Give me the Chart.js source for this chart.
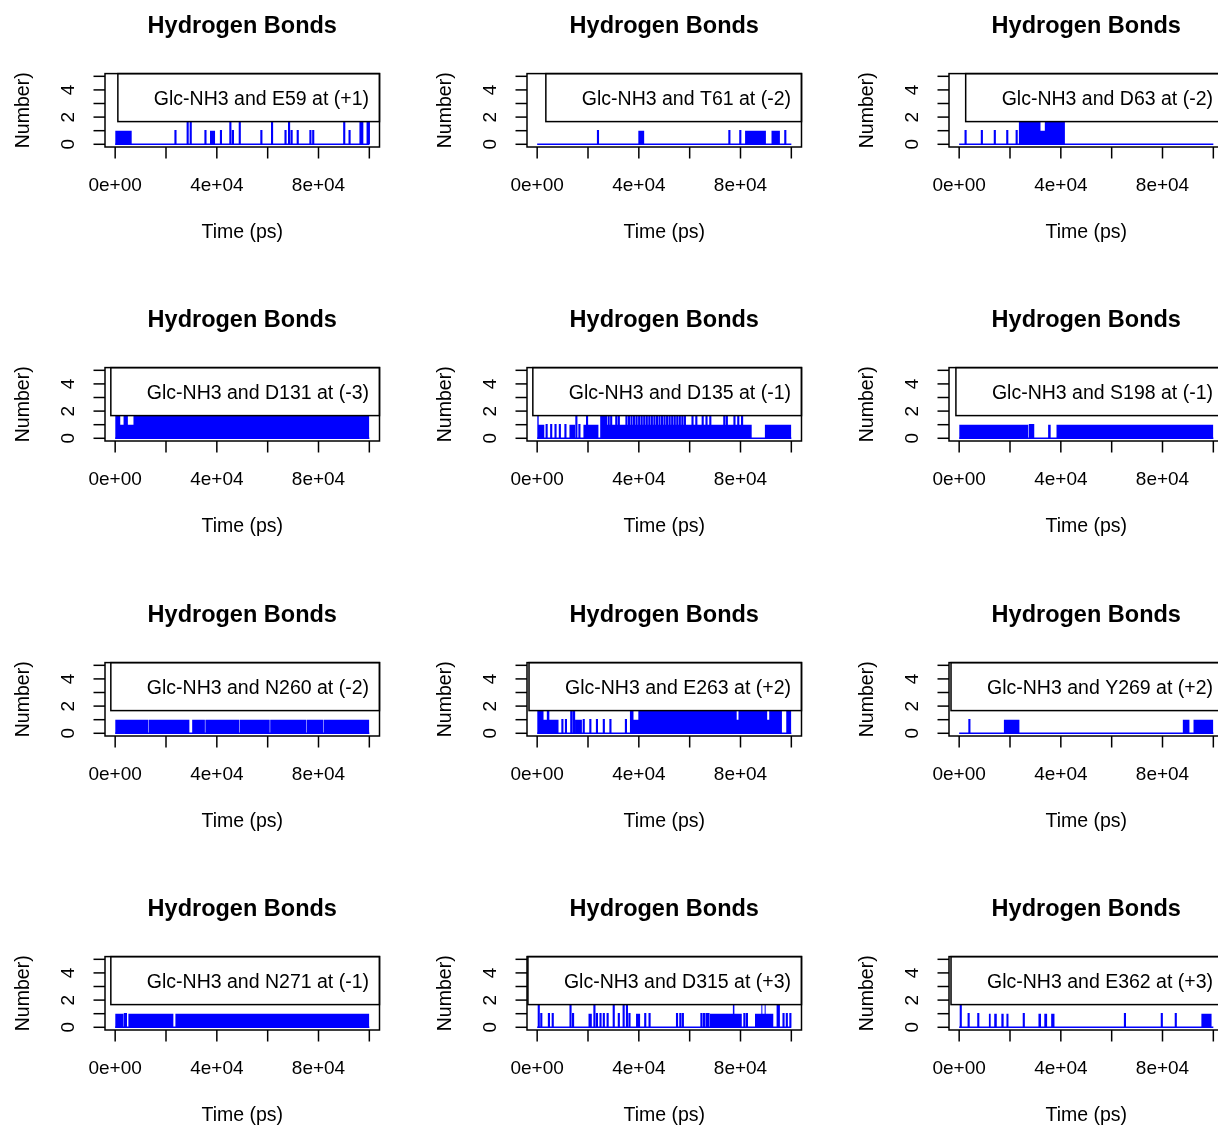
<!DOCTYPE html>
<html>
<head>
<meta charset="utf-8">
<script src="https://cdn.jsdelivr.net/npm/chart.js@4.4.0/dist/chart.umd.min.js"></script>
<style>
  body { margin: 0; background: #fff; overflow: hidden; }
  #grid { position: relative; width: 1266px; height: 1178px; }
  .cell { position: absolute; width: 422px; height: 294px; }
</style>
</head>
<body>
<div id="grid"></div>
<script>
// axis ticks (time in ps, number of H-bonds)
const xTicks = [0, 20000, 40000, 60000, 80000, 100000];
const xTickLabels = ['0e+00', '', '4e+04', '', '8e+04', ''];
const yTicks = [0, 1, 2, 3, 4, 5];
const yTickLabels = ['0', '', '2', '', '4', ''];

const panelNames = [
  'Glc-NH3 and E59 at (+1)', 'Glc-NH3 and T61 at (-2)', 'Glc-NH3 and D63 at (-2)',
  'Glc-NH3 and D131 at (-3)', 'Glc-NH3 and D135 at (-1)', 'Glc-NH3 and S198 at (-1)',
  'Glc-NH3 and N260 at (-2)', 'Glc-NH3 and E263 at (+2)', 'Glc-NH3 and Y269 at (+2)',
  'Glc-NH3 and N271 at (-1)', 'Glc-NH3 and D315 at (+3)', 'Glc-NH3 and E362 at (+3)'
];

// blocks: [start, end, count] periods of fast flipping (drawn solid)
// trace: [time, count] single spikes or [start, end, count] held values
const e59Blocks = [[0, 6500, 1], [37300, 39300, 1]];
const e59Trace = [[23600, 1], [28400, 2], [29600, 2], [35400, 1], [41500, 1], [45200, 2], [46200, 1],
  [48900, 2], [57400, 1], [61600, 2], [66900, 1], [68300, 2], [69300, 1], [71700, 1], [76700, 1],
  [77800, 1], [90000, 2], [92100, 1], [96400, 2], [97100, 2], [99200, 2], [99700, 2]];

const t61Blocks = [[39800, 42100, 1], [81800, 90000, 1], [92200, 95500, 1]];
const t61Trace = [[23800, 1], [75500, 1], [79800, 1], [97500, 1]];

const d63Blocks = [[23500, 32000, 2], [32000, 33700, 1], [33700, 41600, 2]];
const d63Trace = [[2400, 1], [8800, 1], [13900, 1], [18800, 1], [22500, 1]];

const d131Blocks = [[0, 2000, 2], [2000, 3300, 1], [3300, 5000, 2], [5000, 7200, 1], [7200, 100000, 2]];
const d131Trace = [];

const d135Blocks = [[0, 600, 2], [600, 2800, 1], [12700, 14900, 1], [18200, 24100, 1],
  [24800, 27500, 2], [27500, 84400, 1], [89600, 100000, 1]];
const d135Trace = [[3600, 1], [5400, 1], [7100, 1], [8800, 1], [11000, 1], [15300, 2], [16500, 1],
  [19500, 2], [28000, 2], [29000, 2], [31000, 2], [32000, 2], [35000, 2], [36000, 2], [37000, 2],
  [38000, 2], [39000, 2], [40000, 2], [41000, 2], [42000, 2], [43000, 2], [44000, 2], [45000, 2],
  [46000, 2], [47000, 2], [48000, 2], [49000, 2], [50000, 2], [51000, 2], [52000, 2], [53000, 2],
  [54000, 2], [55000, 2], [56000, 2], [57000, 2], [58000, 2], [61000, 2], [62500, 2], [65000, 2],
  [66500, 2], [68000, 2], [73500, 2], [74500, 2], [77500, 2], [79000, 2], [80500, 2]];

const s198Blocks = [[0, 27200, 1], [35000, 36000, 1], [38300, 100000, 1]];
const s198Trace = [[27700, 1], [28300, 1], [29000, 1]];

const n260Blocks = [[0, 13000, 1], [13200, 29200, 1], [30300, 35300, 1], [35500, 48800, 1],
  [49000, 60800, 1], [61000, 75200, 1], [75400, 81800, 1], [82000, 100000, 1]];
const n260Trace = [];

const e263Blocks = [[0, 2500, 2], [2500, 3800, 1], [3800, 4800, 2], [4800, 8400, 1], [13000, 14000, 2],
  [14900, 17600, 1], [36500, 37900, 2], [37900, 39800, 1], [39800, 78500, 2], [78500, 79200, 1],
  [79200, 90500, 2], [90500, 91300, 1], [91300, 96300, 2], [98000, 100000, 2]];
const e263Trace = [[9800, 1], [11200, 1], [14400, 2], [18200, 1], [20800, 1], [23400, 1], [26100, 1],
  [28700, 1], [34800, 1]];

const y269Blocks = [[17600, 23700, 1], [88000, 90600, 1], [92200, 100000, 1]];
const y269Trace = [[3900, 1]];

const n271Blocks = [[0, 3300, 1], [5200, 22900, 1], [23700, 100000, 1]];
const n271Trace = [[3700, 1], [4100, 1]];

const d315Blocks = [[20200, 21500, 1], [38900, 40500, 1], [68000, 72000, 1], [72000, 77000, 1],
  [77000, 77600, 2], [77600, 80500, 1], [85700, 88200, 1], [88200, 88600, 2], [88600, 89500, 1],
  [89500, 89900, 2], [89900, 92900, 1], [94200, 95500, 2]];
const d315Trace = [[500, 2], [1500, 1], [4500, 1], [6000, 1], [13000, 2], [14000, 1], [22400, 2],
  [23400, 1], [24800, 1], [26100, 1], [27600, 1], [30000, 2], [32000, 1], [33900, 2], [35200, 2],
  [36200, 1], [42400, 1], [44100, 1], [54900, 1], [56200, 1], [57200, 1], [64500, 1], [65500, 1],
  [66500, 1], [67300, 1], [81400, 1], [82400, 1], [96800, 1], [98100, 1], [99500, 1]];

const e362Blocks = [[11700, 12400, 1], [13800, 14800, 1], [16600, 17500, 1], [18600, 19400, 1],
  [31200, 32200, 1], [33500, 34600, 1], [36200, 37500, 1], [95300, 99300, 1]];
const e362Trace = [[500, 2], [3600, 1], [7400, 1], [25300, 1], [65100, 1], [79600, 1], [85100, 1]];

const panelBlocks = [e59Blocks, t61Blocks, d63Blocks, d131Blocks, d135Blocks, s198Blocks,
  n260Blocks, e263Blocks, y269Blocks, n271Blocks, d315Blocks, e362Blocks];
const panelTrace = [e59Trace, t61Trace, d63Trace, d131Trace, d135Trace, s198Trace,
  n260Trace, e263Trace, y269Trace, n271Trace, d315Trace, e362Trace];

const FONT = '"Liberation Sans", Arial, Helvetica, sans-serif';
const SPIKE = 250;

// turn segment lists into step points
function stepPoints(segs) {
  const pts = [{ x: 0, y: 0 }];
  segs.forEach((s, i) => {
    const t0 = s[0];
    const t1 = s.length === 2 ? s[0] + SPIKE : s[1];
    const v = s[s.length - 1];
    pts.push({ x: t0, y: v });
    const next = segs[i + 1];
    if (!next || next[0] > t1) pts.push({ x: t1, y: 0 });
  });
  pts.push({ x: 100000, y: pts[pts.length - 1].y });
  return pts;
}

// R-like box, axes and legend
const rStyle = {
  id: 'rStyle',
  afterDatasetsDraw(chart, args, opts) {
    const { ctx, chartArea: a, scales: { x, y } } = chart;
    ctx.save();
    ctx.strokeStyle = '#000';
    ctx.fillStyle = '#000';
    ctx.lineWidth = 1.5;

    // legend box, top right
    ctx.font = '19.5px ' + FONT;
    const tw = ctx.measureText(opts.label).width;
    const tx = a.right - 10.5 - tw;
    const lx = tx - 36;
    ctx.fillStyle = '#fff';
    ctx.fillRect(lx, a.top, a.right - lx, 48);
    ctx.strokeRect(lx, a.top, a.right - lx, 48);
    ctx.fillStyle = '#000';
    ctx.textAlign = 'left';
    ctx.textBaseline = 'alphabetic';
    ctx.fillText(opts.label, tx, a.top + 31);

    // plot box
    ctx.strokeRect(a.left, a.top, a.right - a.left, a.bottom - a.top);

    // x axis
    ctx.font = '19px ' + FONT;
    ctx.textAlign = 'center';
    xTicks.forEach((v, i) => {
      const px = x.getPixelForValue(v);
      ctx.beginPath();
      ctx.moveTo(px, a.bottom);
      ctx.lineTo(px, a.bottom + 11.5);
      ctx.stroke();
      if (xTickLabels[i]) ctx.fillText(xTickLabels[i], px, 190.5);
    });

    // y axis
    yTicks.forEach((v, i) => {
      const py = y.getPixelForValue(v);
      ctx.beginPath();
      ctx.moveTo(a.left, py);
      ctx.lineTo(a.left - 11.5, py);
      ctx.stroke();
      if (yTickLabels[i]) {
        ctx.save();
        ctx.translate(74, py);
        ctx.rotate(-Math.PI / 2);
        ctx.fillText(yTickLabels[i], 0, 0);
        ctx.restore();
      }
    });

    // axis titles
    ctx.font = '19.5px ' + FONT;
    ctx.fillText('Time (ps)', (a.left + a.right) / 2, 237.5);
    ctx.save();
    ctx.translate(28.5, (a.top + a.bottom) / 2);
    ctx.rotate(-Math.PI / 2);
    ctx.fillText('Number)', 0, 0);
    ctx.restore();
    ctx.restore();
  }
};

const grid = document.getElementById('grid');
panelNames.forEach((name, k) => {
  const col = k % 3, row = Math.floor(k / 3);
  const cell = document.createElement('div');
  cell.className = 'cell';
  cell.style.left = (col * 422) + 'px';
  cell.style.top = Math.round(row * 294.33) + 'px';
  const canvas = document.createElement('canvas');
  canvas.width = 422;
  canvas.height = 294;
  cell.appendChild(canvas);
  grid.appendChild(cell);

  new Chart(canvas, {
    type: 'line',
    data: {
      datasets: [
        {
          data: stepPoints(panelBlocks[k]),
          stepped: 'before',
          borderWidth: 0,
          pointRadius: 0,
          fill: 'origin',
          backgroundColor: '#0000ff'
        },
        {
          data: stepPoints(panelTrace[k]),
          stepped: 'before',
          borderWidth: 1.5,
          borderColor: '#0000ff',
          pointRadius: 0,
          fill: false
        }
      ]
    },
    options: {
      responsive: false,
      animation: false,
      events: [],
      layout: { padding: { left: 105, right: 42.5, top: 0, bottom: 147 } },
      plugins: {
        legend: { display: false },
        tooltip: { enabled: false },
        title: {
          display: true,
          text: 'Hydrogen Bonds',
          color: '#000',
          font: { family: FONT, size: 23.5, weight: 'bold' },
          padding: { top: 12.2, bottom: 33.2 }
        },
        rStyle: { label: name }
      },
      scales: {
        x: { type: 'linear', display: false, min: -4000, max: 104000 },
        y: { type: 'linear', display: false, min: -0.2, max: 5.2 }
      }
    },
    plugins: [rStyle]
  });
});
</script>
</body>
</html>
